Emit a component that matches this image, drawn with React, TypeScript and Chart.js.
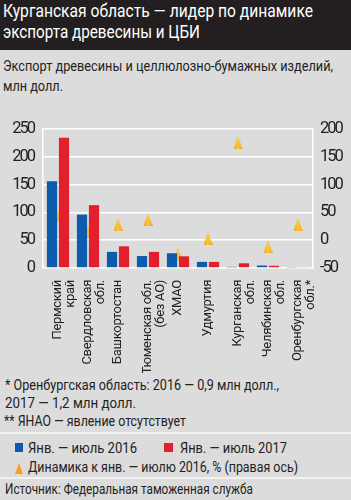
import React, { useEffect, useLayoutEffect, useRef } from "react";
import { Chart, registerables } from "chart.js";

Chart.register(...registerables);

const categories: (string | string[])[] = [
  ["Пермский", "край"],
  ["Свердловская", "обл."],
  "Башкортостан",
  ["Тюменская обл.", "(без АО)"],
  "ХМАО",
  "Удмуртия",
  ["Курганская", "обл."],
  ["Челябинская", "обл."],
  ["Оренбургская", "обл.*"],
];
const values2016 = [156, 96, 29, 21.5, 26.5, 11, 2, 4.5, 0.9];
const values2017 = [234, 113, 39, 29, 21, 11, 8.5, 4, 1.2];
const dynamics = [45, 15, 28, 37, -25, 3, 175, -12, 28];

const leftTicks = [0, 250, 50];
const rightTicks = [-50, 200, 50];

const FONT = "Roboto, 'Liberation Sans', sans-serif";
const BLUE = "#0b5cad";
const RED = "#e31e2d";
const ORANGE = "#f5a01a";
const BG = "#dcdcdd";

function makeTriangle(): HTMLCanvasElement {
  const c = document.createElement("canvas");
  c.width = 9;
  c.height = 13;
  const g = c.getContext("2d")!;
  const grad = g.createLinearGradient(0, 0, 9, 0);
  grad.addColorStop(0, "#f39a12");
  grad.addColorStop(0.5, "#fcc93a");
  grad.addColorStop(1, "#f39a12");
  g.fillStyle = grad;
  g.beginPath();
  g.moveTo(4.5, 0);
  g.lineTo(9, 13);
  g.lineTo(0, 13);
  g.closePath();
  g.fill();
  return c;
}

function ChartBox() {
  const ref = useRef<HTMLCanvasElement>(null);
  useEffect(() => {
    if (!ref.current) return;
    const narrow = {
      id: "narrow",
      beforeUpdate(chart: any) { chart.ctx.letterSpacing = "-2px"; },
      beforeDraw(chart: any) { chart.ctx.letterSpacing = "-2px"; },
      afterDatasetsDraw(chart: any) { chart.ctx.letterSpacing = "-0.3px"; },
    };
    const chart = new Chart(ref.current, {
      data: {
        labels: categories,
        datasets: [
          {
            type: "line",
            data: dynamics,
            yAxisID: "y1",
            showLine: false,
            pointStyle: makeTriangle(),
            pointRadius: 6,
            order: 2,
          } as any,
          {
            type: "bar",
            data: values2016,
            backgroundColor: BLUE,
            yAxisID: "y",
            categoryPercentage: 0.8,
            barPercentage: 0.85,
            order: 1,
          },
          {
            type: "bar",
            data: values2017,
            backgroundColor: RED,
            yAxisID: "y",
            categoryPercentage: 0.8,
            barPercentage: 0.85,
            order: 1,
          },
        ],
      },
      options: {
        animation: false,
        responsive: false,
        maintainAspectRatio: false,
        layout: { padding: { top: 10, left: 0, right: 0, bottom: 0 } },
        plugins: { legend: { display: false }, tooltip: { enabled: false } },
        scales: {
          x: {
            grid: { display: false, drawTicks: false },
            border: { display: false },
            ticks: {
              color: "#222",
              font: { family: FONT, size: 13, lineHeight: 1.0 },
              minRotation: 90,
              maxRotation: 90,
              padding: 12,
              autoSkip: false,
              z: 1,
            } as any,
            afterFit: (s: any) => { s.height = 105; },
          },
          y: {
            position: "left",
            min: leftTicks[0],
            max: leftTicks[1],
            ticks: { stepSize: leftTicks[2], color: "#222", font: { family: FONT, size: 16.5 }, padding: 9 },
            grid: { color: "#ffffff", lineWidth: 1.5, drawTicks: false },
            border: { display: true, color: "#ffffff", width: 1.5 },
            afterFit: (s: any) => { s.width = 43; },
          },
          y1: {
            position: "right",
            min: rightTicks[0],
            max: rightTicks[1],
            ticks: { stepSize: rightTicks[2], color: "#222", font: { family: FONT, size: 16.5 }, padding: 7 },
            grid: { display: false, drawTicks: false },
            border: { display: true, color: "#ffffff", width: 1.5 },
            afterFit: (s: any) => { s.width = 38; },
          },
        },
      },
      plugins: [narrow],
    });
    return () => chart.destroy();
  }, []);
  return <canvas ref={ref} width={351} height={263} style={{ position: "absolute", left: 0, top: 110, width: 351, height: 263 }} />;
}

function Fit(props: { x: number; top: number; w: number; size: number; lh: number; color?: string; children: React.ReactNode }) {
  const ref = useRef<HTMLSpanElement>(null);
  useLayoutEffect(() => {
    const el = ref.current;
    if (!el) return;
    el.style.transform = "none";
    const nat = el.getBoundingClientRect().width;
    if (nat > 0) el.style.transform = `scaleX(${props.w / nat})`;
  });
  return (
    <span
      ref={ref}
      style={{
        position: "absolute",
        left: props.x,
        top: props.top,
        fontFamily: FONT,
        fontSize: props.size,
        lineHeight: `${props.lh}px`,
        color: props.color || "#222",
        whiteSpace: "nowrap",
        transformOrigin: "0 0",
        display: "inline-block",
      }}
    >
      {props.children}
    </span>
  );
}

export default function App() {
  return (
    <div style={{ position: "fixed", left: 0, top: 0, width: 351, height: 500, background: BG, overflow: "hidden" }}>
      <div style={{ position: "absolute", left: 0, top: 0, width: 351, height: 50, background: "#231f20" }} />
      <Fit x={3} top={1} w={310} size={17.5} lh={21} color="#fff">Курганская область — лидер по динамике</Fit>
      <Fit x={3} top={22} w={197} size={17.5} lh={21} color="#fff">экспорта древесины и ЦБИ</Fit>
      <Fit x={3} top={55.7} w={330} size={15.5} lh={20}>Экспорт древесины и целлюлозно-бумажных изделий,</Fit>
      <Fit x={3} top={75.7} w={60} size={15.5} lh={20}>млн долл.</Fit>
      <ChartBox />
      <Fit x={5} top={377} w={274} size={14.5} lh={17.8}>* Оренбургская область: 2016 — 0,9 млн долл.,</Fit>
      <Fit x={5} top={394.8} w={131} size={14.5} lh={17.8}>2017 — 1,2 млн долл.</Fit>
      <Fit x={4} top={412.6} w={182} size={14.5} lh={17.8}>** ЯНАО — явление отсутствует</Fit>
      <div style={{ position: "absolute", left: 0, top: 432, width: 351, height: 2, background: "#f2f2f2" }} />
      <div style={{ position: "absolute", left: 15, top: 443, width: 8, height: 8.5, background: BLUE }} />
      <Fit x={28} top={438.6} w={109} size={15} lh={18}>Янв. — июль 2016</Fit>
      <div style={{ position: "absolute", left: 164, top: 443, width: 8.5, height: 8.5, background: RED }} />
      <Fit x={180} top={438.6} w={107} size={15} lh={18}>Янв. — июль 2017</Fit>
      <div style={{ position: "absolute", left: 14.5, top: 462.5, width: 0, height: 0, borderLeft: "4.5px solid transparent", borderRight: "4.5px solid transparent", borderBottom: `11px solid ${ORANGE}` }} />
      <Fit x={28} top={458.4} w={270} size={15} lh={18}>Динамика к янв. — июлю 2016, % (правая ось)</Fit>
      <div style={{ position: "absolute", left: 0, top: 476.5, width: 351, height: 2, background: "#f2f2f2" }} />
      <Fit x={5} top={480} w={248} size={15} lh={18}>Источник: Федеральная таможенная служба</Fit>
    </div>
  );
}
